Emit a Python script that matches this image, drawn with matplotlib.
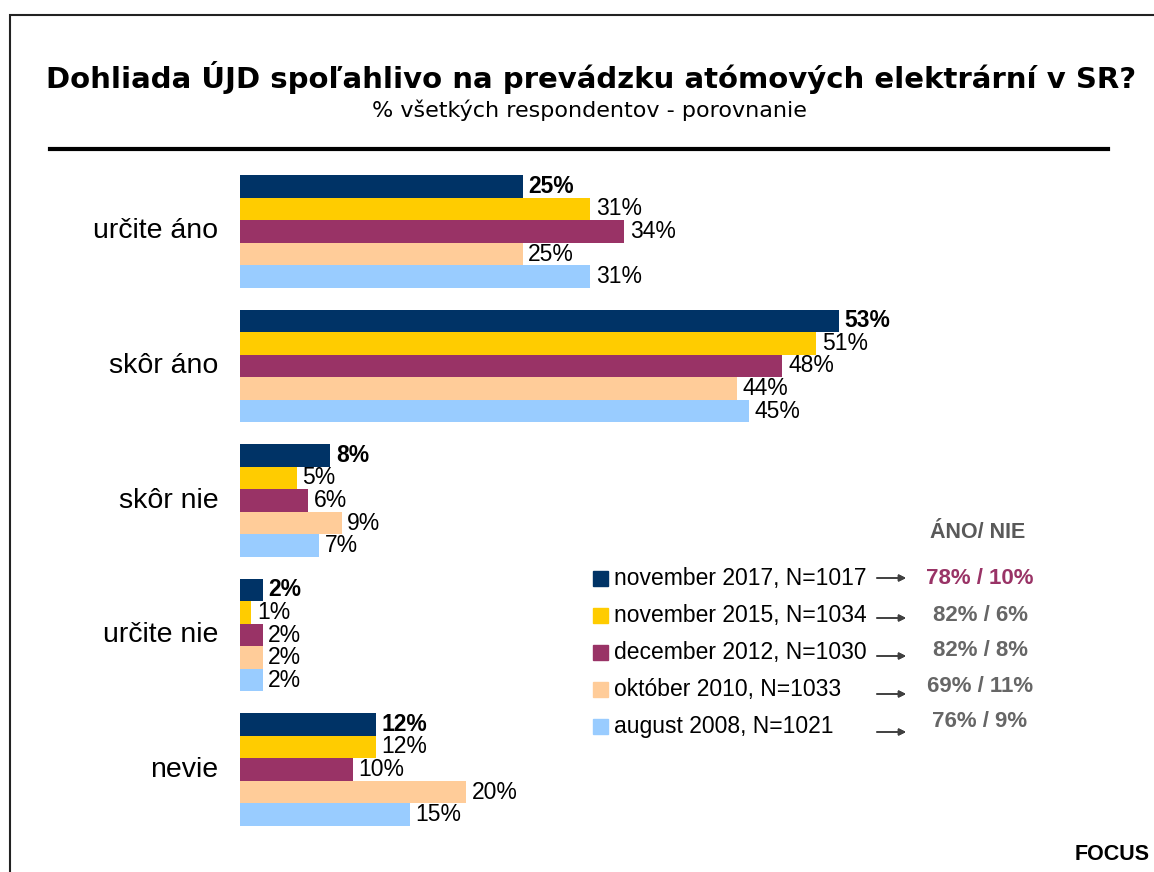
import matplotlib
matplotlib.use("Agg")
import matplotlib.pyplot as plt
from matplotlib.patches import Rectangle
from matplotlib.lines import Line2D
import numpy as np

categories = ['určite áno', 'skôr áno', 'skôr nie', 'určite nie', 'nevie']
series_names = ['november 2017, N=1017', 'november 2015, N=1034', 'december 2012, N=1030',
                'október 2010, N=1033', 'august 2008, N=1021']
v2017 = [25, 53, 8, 2, 12]
v2015 = [31, 51, 5, 1, 12]
v2012 = [34, 48, 6, 2, 10]
v2010 = [25, 44, 9, 2, 20]
v2008 = [31, 45, 7, 2, 15]
ano_nie = ['78% / 10%', '82% / 6%', '82% / 8%', '69% / 11%', '76% / 9%']
colors = ['#003366', '#FFCC00', '#993366', '#FFCC99', '#99CCFF']

W, H = 1154, 872
fig = plt.figure(figsize=(W / 100, H / 100), dpi=100)
fig.patch.set_facecolor('white')

def fx(x): return x / W
def fy(y): return 1 - y / H

# axes in pixel layout
left_px, right_px = 240, 1148
top_px, bot_px = 164.25, 836.75
ax = fig.add_axes([fx(left_px), fy(bot_px), fx(right_px - left_px), (bot_px - top_px) / H])
xmax = (right_px - left_px) / 11.3
ax.set_xlim(0, xmax)
ax.set_ylim(len(categories) - 0.5, -0.5)
ax.axis('off')

series = [v2017, v2015, v2012, v2010, v2008]
bh = 0.168
y = np.arange(len(categories))
for i, (vals, c) in enumerate(zip(series, colors)):
    pos = y - 2 * bh + i * bh
    ax.barh(pos, vals, height=bh, color=c, edgecolor='none')
    for p, v in zip(pos, vals):
        ax.text(v + 0.5, p, f'{v}%', va='center', ha='left', fontsize=16.5,
                fontweight='bold' if i == 0 else 'normal', color='black',
                family='Liberation Sans')

for yi, cat in zip(y, categories):
    ax.text(-1.9, yi, cat, ha='right', va='center', fontsize=20.5, family='Liberation Sans',
            color='black')

# Title & subtitle
fig.text(fx(591), fy(78), 'Dohliada ÚJD spoľahlivo na prevádzku atómových elektrární v SR?',
         ha='center', va='center', fontsize=21, fontweight='bold', family='DejaVu Sans')
fig.text(fx(589), fy(110), '% všetkých respondentov - porovnanie', ha='center', va='center',
         fontsize=16, family='DejaVu Sans')

# rule under title
fig.add_artist(Line2D([fx(50), fx(1108)], [fy(149), fy(149)], color='black', lw=3,
                      transform=fig.transFigure))
# border
fig.add_artist(Line2D([fx(10), fx(10), fx(1154)], [fy(872), fy(15.5), fy(15.5)], color='#222222',
                      lw=1.5, transform=fig.transFigure, solid_joinstyle='miter'))

# legend
row_y = [578, 615, 652, 689, 726]
fig.text(fx(978), fy(533), 'ÁNO/ NIE', ha='center', va='center', fontsize=15.5,
         fontweight='bold', color='#595959', family='Liberation Sans')
for i, (name, c, an, ry) in enumerate(zip(series_names, colors, ano_nie, row_y)):
    fig.add_artist(Rectangle((fx(593), fy(ry + 7.5)), fx(15), 15 / H, color=c,
                             transform=fig.transFigure))
    fig.text(fx(614), fy(ry), name, ha='left', va='center', fontsize=16.5,
             family='Liberation Sans', color='black')
    ay = ry + (0 if i == 0 else 2 + i)
    fig.add_artist(plt.annotate('', xy=(fx(906), fy(ay)), xytext=(fx(877), fy(ay)),
                                xycoords='figure fraction', textcoords='figure fraction',
                                arrowprops=dict(arrowstyle='-|>', color='#404040', lw=1.2,
                                                mutation_scale=10, shrinkA=0, shrinkB=0)))
    fig.text(fx(980), fy(ry - (0 if i < 2 else (i - 1) * 1.5)), an, ha='center', va='center',
             fontsize=16, fontweight='bold',
             color='#993366' if i == 0 else '#666666', family='Liberation Sans')

fig.text(fx(1150), fy(854), 'FOCUS', ha='right', va='center', fontsize=15.5, fontweight='bold',
         family='Liberation Sans', color='black')

fig.savefig('out.png', dpi=100, facecolor='white')
